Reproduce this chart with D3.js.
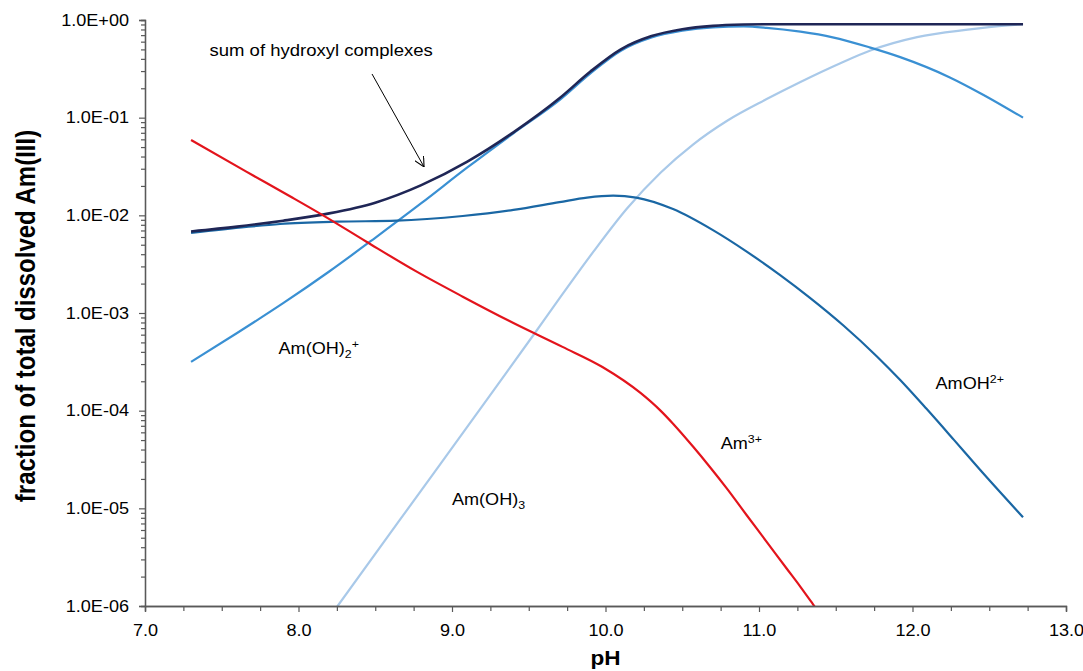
<!DOCTYPE html>
<html>
<head>
<meta charset="utf-8">
<script src="https://cdn.jsdelivr.net/npm/d3@7"></script>
<style>
  body { margin: 0; background: #fff; }
  text { font-family: "Liberation Sans", Arial, Helvetica, sans-serif; fill: #000; }
</style>
</head>
<body>
<svg id="chart" width="1083" height="671"></svg>
<script>
// Am(III) speciation vs pH: fraction of total dissolved Am(III)

// Am3+
const pHAm3 = [7.3, 7.66, 7.95, 8.16, 8.44, 8.77, 9.07, 9.40, 9.72, 9.98, 10.23, 10.36, 10.44, 10.57, 10.68, 10.79, 10.92, 11.05, 11.18, 11.27, 11.35, 11.45];
const fracAm3 = [5.9e-2, 2.8e-2, 1.55e-2, 1.0e-2, 5.4e-3, 2.65e-3, 1.47e-3, 7.9e-4, 4.5e-4, 2.8e-4, 1.51e-4, 9.95e-5, 7.35e-5, 4.29e-5, 2.65e-5, 1.6e-5, 8.5e-6, 4.54e-6, 2.42e-6, 1.57e-6, 1.05e-6, 6.3e-7];

// AmOH2+
const pHAmOH = [7.3, 7.66, 7.88, 8.25, 8.64, 9.07, 9.40, 9.70, 9.88, 10.05, 10.20, 10.44, 10.70, 10.92, 11.14, 11.33, 11.55, 11.77, 11.92, 12.09, 12.27, 12.44, 12.72];
const fracAmOH = [6.6e-3, 7.6e-3, 8.15e-3, 8.61e-3, 8.81e-3, 9.84e-3, 1.135e-2, 1.365e-2, 1.52e-2, 1.59e-2, 1.52e-2, 1.159e-2, 7.05e-3, 4.25e-3, 2.43e-3, 1.439e-3, 7.45e-4, 3.57e-4, 2.06e-4, 1.05e-4, 5.02e-5, 2.48e-5, 8.1e-6];

// Am(OH)2+
const pHAmOH2 = [7.3, 7.6, 7.9, 8.2, 8.5, 8.8, 9.1, 9.4, 9.7, 9.9, 10.1, 10.3, 10.5, 10.7, 10.9, 11.05, 11.27, 11.48, 11.72, 11.92, 12.24, 12.46, 12.72];
const fracAmOH2 = [3.16e-4, 6.24e-4, 1.26e-3, 2.66e-3, 5.89e-3, 1.33e-2, 3.09e-2, 6.92e-2, 0.151, 0.282, 0.484, 0.661, 0.776, 0.841, 0.859, 0.832, 0.759, 0.665, 0.525, 0.417, 0.26, 0.172, 0.1];

// Am(OH)3
const pHAmOH3 = [7.3, 8.255, 8.66, 8.965, 9.29, 9.54, 9.70, 9.92, 10.14, 10.36, 10.57, 10.79, 11.05, 11.27, 11.53, 11.73, 12.03, 12.36, 12.62, 12.72];
const fracAmOH3 = [8.3e-9, 1.0e-6, 7.6e-6, 3.49e-5, 1.77e-4, 6.24e-4, 1.41e-3, 4.22e-3, 1.175e-2, 2.75e-2, 5.31e-2, 9.25e-2, 0.155, 0.232, 0.361, 0.49, 0.668, 0.796, 0.881, 0.906];

// sum of hydroxyl complexes
const pHSum = [7.3, 7.6, 7.9, 8.2, 8.5, 8.8, 9.1, 9.4, 9.7, 9.9, 10.1, 10.3, 10.5, 10.7, 10.9, 11.05, 12.72];
const fracSum = [6.84e-3, 7.67e-3, 8.81e-3, 1.047e-2, 1.349e-2, 2.04e-2, 3.55e-2, 7.08e-2, 0.158, 0.295, 0.501, 0.684, 0.804, 0.871, 0.899, 0.906, 0.906];

// axis ticks
const xMajorTicks = [7, 8, 9, 10, 11, 12, 13];
const yExponents = [-6, -5, -4, -3, -2, -1, 0];

const series = [
  { name: "Am(OH)3",  pH: pHAmOH3, frac: fracAmOH3, color: "#a9c9e9", width: 2.2 },
  { name: "Am(OH)2+", pH: pHAmOH2, frac: fracAmOH2, color: "#3a90d3", width: 2.2 },
  { name: "AmOH2+",   pH: pHAmOH,  frac: fracAmOH,  color: "#1a67a4", width: 2.2 },
  { name: "sum",      pH: pHSum,   frac: fracSum,   color: "#1f2656", width: 2.6 },
  { name: "Am3+",     pH: pHAm3,   frac: fracAm3,   color: "#e3141c", width: 2.2 }
];

const SX = 1.13; // horizontal text stretch
const FONT = 16;

const svg = d3.select("#chart");
const x = d3.scaleLinear().domain([7, 13]).range([145, 1066]);
const y = d3.scaleLog().domain([1e-6, 1]).range([606, 20]);

const defs = svg.append("defs");
defs.append("clipPath").attr("id", "plotClip")
  .append("rect")
  .attr("x", x(7)).attr("y", y(1))
  .attr("width", x(13) - x(7)).attr("height", y(1e-6) - y(1));

// curves
const line = d3.line()
  .x(d => x(d[0]))
  .y(d => y(d[1]))
  .curve(d3.curveMonotoneX);

const plot = svg.append("g").attr("clip-path", "url(#plotClip)");
series.forEach(s => {
  plot.append("path")
    .datum(s.pH.map((p, i) => [p, s.frac[i]]))
    .attr("fill", "none")
    .attr("stroke", s.color)
    .attr("stroke-width", s.width)
    .attr("stroke-linejoin", "round")
    .attr("d", line);
});

// axes
const AXIS = "#595959";
const fmtY = v => {
  const e = Math.round(Math.log10(v));
  return "1.0E" + (e < 0 ? "-" : "+") + String(Math.abs(e)).padStart(2, "0");
};
const yMajor = yExponents.map(e => Math.pow(10, e));
const yMinor = [];
yExponents.slice(0, -1).forEach(e => { for (let k = 2; k <= 9; k++) yMinor.push(k * Math.pow(10, e)); });

const xMinor = d3.range(7, 13.001, 0.25).filter(v => Math.abs(v - Math.round(v)) > 1e-6);

const gyMinor = svg.append("g").attr("transform", `translate(${x(7)},0)`)
  .call(d3.axisLeft(y).tickValues(yMinor).tickSize(4).tickFormat(""));
const gy = svg.append("g").attr("transform", `translate(${x(7)},0)`)
  .call(d3.axisLeft(y).tickValues(yMajor).tickSize(6).tickFormat(fmtY));
const gxMinor = svg.append("g").attr("transform", `translate(0,${y(1e-6)})`)
  .call(d3.axisBottom(x).tickValues(xMinor).tickSize(5).tickFormat(""));
const gx = svg.append("g").attr("transform", `translate(0,${y(1e-6)})`)
  .call(d3.axisBottom(x).tickValues(xMajorTicks).tickSize(6).tickFormat(d3.format(".1f")));

[gyMinor, gy, gxMinor, gx].forEach(g => {
  g.selectAll("path.domain").attr("stroke", AXIS).attr("stroke-width", 1.3);
  g.selectAll(".tick line").attr("stroke", AXIS).attr("stroke-width", 1.2);
});
gy.selectAll(".tick text")
  .attr("font-size", FONT)
  .attr("font-family", null)
  .attr("x", -16 / SX)
  .attr("transform", `scale(${SX},1)`);
gx.selectAll(".tick text")
  .attr("font-size", FONT)
  .attr("font-family", null)
  .attr("y", 19)
  .attr("transform", `scale(${SX},1)`);

// axis titles
svg.append("text")
  .attr("transform", `translate(${(x(7) + x(13)) / 2},665) scale(${SX},1)`)
  .attr("text-anchor", "middle")
  .attr("font-size", 20).attr("font-weight", "bold")
  .text("pH");
svg.append("text")
  .attr("transform", `translate(35,${(y(1) + y(1e-6)) / 2 + 3}) scale(${SX},1) rotate(-90)`)
  .attr("text-anchor", "middle")
  .attr("font-size", 24).attr("font-weight", "bold")
  .text("fraction of total dissolved Am(III)");

// species labels with sub/superscripts
function label(pH, frac, parts, size = FONT) {
  const t = svg.append("text")
    .attr("transform", `translate(${x(pH)},${y(frac)}) scale(${SX},1)`)
    .attr("font-size", size);
  let shift = 0;
  parts.forEach(p => {
    const dy = p.sub ? 4 : p.sup ? -6 : 0;
    t.append("tspan")
      .attr("dy", dy - shift)
      .attr("font-size", p.sub || p.sup ? 11 : size)
      .text(p.t);
    shift = dy;
  });
}
label(7.87, 3.8e-4, [{ t: "Am(OH)" }, { t: "2", sub: true }, { t: "+", sup: true }]);
label(10.75, 4.05e-5, [{ t: "Am" }, { t: "3+", sup: true }]);
label(12.15, 1.67e-4, [{ t: "AmOH" }, { t: "2+", sup: true }]);
label(9.0, 1.08e-5, [{ t: "Am(OH)" }, { t: "3", sub: true }]);
label(7.42, 0.43, [{ t: "sum of hydroxyl complexes" }], 16.4);

// arrow pointing at the sum curve
const arrowFrom = [8.479, 0.28];
const arrowTo = [8.818, 0.0313];
defs.append("marker")
  .attr("id", "openArrow")
  .attr("viewBox", "0 0 10 10")
  .attr("refX", 10).attr("refY", 5)
  .attr("markerWidth", 10).attr("markerHeight", 10)
  .attr("markerUnits", "userSpaceOnUse")
  .attr("orient", "auto")
  .append("path")
  .attr("d", "M0,0 L10,5 L0,10")
  .attr("fill", "none").attr("stroke", "#000").attr("stroke-width", 1.1);
svg.append("line")
  .attr("x1", x(arrowFrom[0])).attr("y1", y(arrowFrom[1]))
  .attr("x2", x(arrowTo[0])).attr("y2", y(arrowTo[1]))
  .attr("stroke", "#000").attr("stroke-width", 1)
  .attr("marker-end", "url(#openArrow)");
</script>
</body>
</html>
